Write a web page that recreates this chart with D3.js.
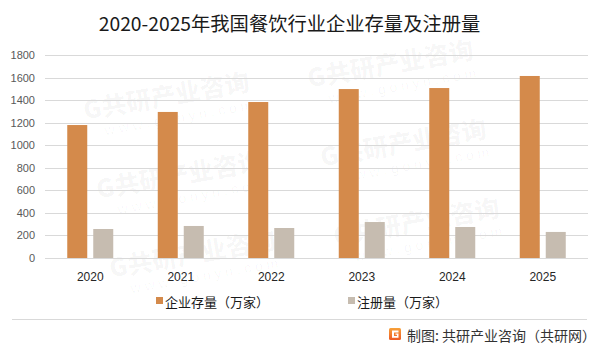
<!DOCTYPE html>
<html>
<head>
<meta charset="utf-8">
<script src="https://cdn.jsdelivr.net/npm/d3@7"></script>
<style>
html,body{margin:0;padding:0;background:#fff;}
svg{display:block;}
</style>
</head>
<body>
<svg id="chart" width="602" height="345"></svg>
<script>
const title = "2020-2025年我国餐饮行业企业存量及注册量";
const categories = ["2020", "2021", "2022", "2023", "2024", "2025"];
const seriesNames = ["企业存量（万家）", "注册量（万家）"];
const stockValues = [1179, 1295, 1383, 1498, 1507, 1614];
const registerValues = [257, 284, 266, 319, 275, 231];
const yTicks = [0, 200, 400, 600, 800, 1000, 1200, 1400, 1600, 1800];
const sourceText = "制图: 共研产业咨询（共研网）";
const watermarkText = "G共研产业咨询";
const watermarkUrl = "w w w . g o n y n . c o m";

const colors = ["#D48A4B", "#C6BCB0"];
const cjk = "'Noto Sans CJK SC', 'Noto Sans', sans-serif";
const latin = "'Liberation Sans', 'DejaVu Sans', sans-serif";

const svg = d3.select("#chart");

// watermark (behind everything), only tiles that fit in the picture
const wm = svg.append("g").attr("class", "watermark");
const u = [224, -32], v = [13, 79], o = [168, 105];
for (let i = 0; i <= 1; i++) {
  for (let j = -1; j <= 3; j++) {
    const cx = o[0] + i * u[0] + j * v[0];
    const cy = o[1] + i * u[1] + j * v[1];
    if (cy < 45 || cy > 300) continue;
    const g = wm.append("g").attr("transform", `translate(${cx},${cy}) rotate(-10)`);
    g.append("text").attr("x", 0).attr("y", 0).attr("text-anchor", "middle")
      .attr("font-family", cjk).attr("font-weight", 900).attr("font-size", 25)
      .attr("fill", "#000").attr("fill-opacity", 0.035).text(watermarkText);
    g.append("text").attr("x", 8).attr("y", 19).attr("text-anchor", "middle")
      .attr("font-family", latin).attr("font-size", 14)
      .attr("fill", "#000").attr("fill-opacity", 0.035).text(watermarkUrl);
  }
}

// title
svg.append("text").attr("x", 289.5).attr("y", 31).attr("text-anchor", "middle")
  .attr("font-family", cjk).attr("font-size", 19.3).attr("fill", "#1a1a1a").text(title);

// scales
const x0 = d3.scaleBand().domain(categories).range([45, 588]).paddingInner(0).paddingOuter(0);
const groupW = 46;
const x1 = d3.scaleBand().domain([0, 1]).range([0, groupW]).paddingInner(0.2308).paddingOuter(0);
const y = d3.scaleLinear().domain([0, 1800]).range([258, 55]);

// gridlines
svg.append("g").selectAll("line").data(yTicks).join("line")
  .attr("x1", 45).attr("x2", 588)
  .attr("y1", d => Math.round(y(d)) + 0.5).attr("y2", d => Math.round(y(d)) + 0.5)
  .attr("stroke", "#d9d9d9").attr("stroke-width", 1);

// y axis labels
const yAxis = d3.axisLeft(y).tickValues(yTicks).tickSize(0).tickPadding(0).tickFormat(d3.format("d"));
const gy = svg.append("g").attr("transform", "translate(35,0)").call(yAxis);
gy.select(".domain").remove();
gy.selectAll("text").attr("font-family", latin).attr("font-size", 11).attr("fill", "#595959");

// bars
const data = categories.map((c, i) => ({ cat: c, vals: [stockValues[i], registerValues[i]] }));
const groups = svg.append("g").selectAll("g").data(data).join("g")
  .attr("transform", d => `translate(${x0(d.cat) + (x0.bandwidth() - groupW) / 2},0)`);
groups.selectAll("rect").data(d => d.vals.map((v, k) => ({ k, v }))).join("rect")
  .attr("x", d => x1(d.k)).attr("width", x1.bandwidth())
  .attr("y", d => y(d.v)).attr("height", d => y(0) - y(d.v))
  .attr("fill", d => colors[d.k]);

// x axis labels
const xAxis = d3.axisBottom(x0).tickSize(0).tickPadding(0);
const gx = svg.append("g").attr("transform", "translate(0,281)").call(xAxis);
gx.select(".domain").remove();
gx.selectAll("text").attr("dy", 0).attr("font-family", latin).attr("font-size", 12).attr("fill", "#262626");

// legend
const legendPos = [156, 348];
seriesNames.forEach((name, k) => {
  const g = svg.append("g").attr("transform", `translate(${legendPos[k]},0)`);
  g.append("rect").attr("x", 0).attr("y", 297).attr("width", 7).attr("height", 7).attr("fill", colors[k]);
  g.append("text").attr("x", 9).attr("y", 306.5).attr("font-family", cjk).attr("font-size", 13)
    .attr("fill", "#1a1a1a").text(name);
});

// separator
svg.append("line").attr("x1", 12).attr("x2", 587).attr("y1", 319.5).attr("y2", 319.5)
  .attr("stroke", "#d9d9d9").attr("stroke-width", 1);

// footer logo
const defs = svg.append("defs");
const grad = defs.append("linearGradient").attr("id", "lg").attr("x1", 0).attr("y1", 0).attr("x2", 0).attr("y2", 1);
grad.append("stop").attr("offset", "0%").attr("stop-color", "#F7A23A");
grad.append("stop").attr("offset", "100%").attr("stop-color", "#EE5A24");
const logo = svg.append("g").attr("transform", "translate(389,328)");
logo.append("rect").attr("width", 12).attr("height", 12).attr("rx", 1.5).attr("fill", "url(#lg)");
logo.append("path").attr("d", "M3,2.5 H9.5 V4.5 H5 V8 H8 V6.8 H6.5 V5.5 H9.5 V9.8 H3 Z").attr("fill", "#fff");

svg.append("text").attr("x", 407).attr("y", 341).attr("font-family", cjk).attr("font-size", 14)
  .attr("fill", "#333").text(sourceText);
</script>
</body>
</html>
